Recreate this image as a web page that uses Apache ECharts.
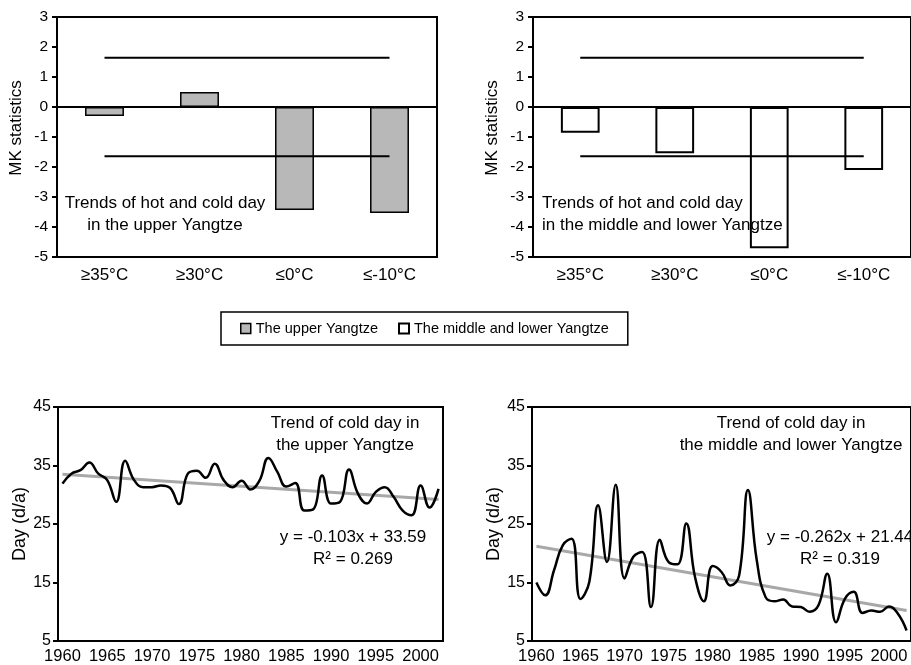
<!DOCTYPE html>
<html>
<head>
<meta charset="utf-8">
<script src="https://cdn.jsdelivr.net/npm/echarts@6/dist/echarts.min.js"></script>
<style>
html, body { margin: 0; padding: 0; background: #fff; }
#chart { width: 911px; height: 665px; }
</style>
</head>
<body>
<div id="chart"></div>
<script>
// MK statistics of hot / cold days
const categories = ["≥35°C", "≥30°C", "≤0°C", "≤-10°C"];
const upperMK = [-0.3, 0.5, -3.43, -3.53];
const midLowerMK = [-0.86, -1.54, -4.71, -2.1];
const sigUpper = [1.64, 1.64, 1.64, 1.64];
const sigLower = [-1.64, -1.64, -1.64, -1.64];
const mkTicks = [-5, -4, -3, -2, -1, 0, 1, 2, 3];

// cold days per year
const years = ["1960", "1961", "1962", "1963", "1964", "1965", "1966", "1967", "1968", "1969",
  "1970", "1971", "1972", "1973", "1974", "1975", "1976", "1977", "1978", "1979",
  "1980", "1981", "1982", "1983", "1984", "1985", "1986", "1987", "1988", "1989",
  "1990", "1991", "1992", "1993", "1994", "1995", "1996", "1997", "1998", "1999",
  "2000", "2001", "2002"];
const upperCold = [31.9, 33.6, 34.2, 35.5, 33.6, 32.5, 28.8, 35.8, 32.5, 31.3,
  31.3, 31.6, 31.2, 28.4, 33.6, 34.1, 32.9, 35.3, 32.5, 31.3,
  32.4, 30.9, 32.4, 36.3, 33.9, 31.4, 32.0, 27.3, 27.5, 33.3,
  28.5, 28.8, 34.3, 30.2, 28.5, 30.5, 31.3, 29.6, 27.3, 26.5,
  31.6, 27.8, 31.0];
const midCold = [15.0, 12.8, 17.1, 21.4, 22.5, 12.2, 15.1, 28.2, 18.5, 31.7,
  15.7, 19.4, 20.2, 10.8, 22.3, 18.5, 18.1, 25.1, 15.9, 11.8,
  17.8, 16.8, 14.5, 16.2, 30.8, 18.8, 12.5, 11.8, 12.1, 10.9,
  10.8, 10.0, 11.1, 16.5, 8.2, 12.2, 13.4, 9.8, 10.2, 10.0,
  10.9, 9.7, 6.8];
const trendYears = ["1960", "2002"];
const trendUpper = [33.5, 29.2];
const trendMid = [21.2, 10.2];
const dayTicks = [5, 15, 25, 35, 45];

const FONT = "Liberation Sans";
const black = { color: "#000", width: 2 };

let chart = echarts.init(document.getElementById("chart"));

function zeroAxis(gi) {
  return {
    gridIndex: gi, type: "category", data: categories, position: "bottom",
    axisLine: { onZero: true, lineStyle: black },
    axisTick: { inside: true, length: 6, lineStyle: black },
    axisLabel: { show: false },
  };
}
function labelAxis(gi) {
  return {
    gridIndex: gi, type: "category", data: categories, position: "bottom",
    axisLine: { show: false, onZero: false },
    axisTick: { show: false },
    axisLabel: { color: "#000", fontSize: 17, fontFamily: FONT, margin: 10 },
  };
}
function yearAxis(gi) {
  return {
    gridIndex: gi, type: "category", data: years,
    axisLine: { onZero: false, lineStyle: black },
    axisTick: { inside: true, length: 6, interval: 4, lineStyle: black },
    axisLabel: { interval: 4, color: "#000", fontSize: 16.5, fontFamily: FONT, margin: 7 },
  };
}
function mkAxis(gi) {
  return {
    gridIndex: gi, type: "value", min: -5, max: 3,
    name: "MK statistics", nameLocation: "middle", nameGap: 32,
    nameTextStyle: { color: "#000", fontSize: 17, fontFamily: FONT, padding: [0, 0, 0, 18] },
    axisLine: { show: true, onZero: false, lineStyle: black },
    axisTick: { show: true, length: 5, customValues: mkTicks, lineStyle: black },
    axisLabel: { color: "#000", fontSize: 15.5, fontFamily: FONT, margin: 9, customValues: mkTicks },
    splitLine: { show: false },
  };
}
function dayAxis(gi) {
  return {
    gridIndex: gi, type: "value", min: 5, max: 45,
    name: "Day (d/a)", nameLocation: "middle", nameGap: 27,
    nameTextStyle: { color: "#000", fontSize: 18, fontFamily: FONT },
    axisLine: { show: true, onZero: false, lineStyle: black },
    axisTick: { show: true, length: 5, customValues: dayTicks, lineStyle: black },
    axisLabel: { color: "#000", fontSize: 16, fontFamily: FONT, margin: 7, customValues: dayTicks },
    splitLine: { show: false },
  };
}
function sigLine(name, data, xi, yi) {
  return {
    name: name, type: "line", data: data, xAxisIndex: xi, yAxisIndex: yi,
    symbol: "none", silent: true, z: 5, lineStyle: black,
  };
}
function txt(x, y, text, align) {
  return {
    type: "text", x: x, y: y, z: 100,
    style: {
      text: text, align: align || "center", verticalAlign: "middle",
      fontSize: 17, fontFamily: FONT, fill: "#000", lineHeight: 22,
    },
  };
}

const gridBox = { show: true, borderColor: "#000", borderWidth: 2, backgroundColor: "#fff" };

let option = {
  animation: false,
  backgroundColor: "#fff",
  textStyle: { fontFamily: FONT },
  grid: [
    Object.assign({ left: 57, top: 17, width: 380, height: 240 }, gridBox),
    Object.assign({ left: 533, top: 17, width: 382, height: 240 }, gridBox),
    Object.assign({ left: 58, top: 407, width: 385, height: 234 }, gridBox),
    Object.assign({ left: 532, top: 407, width: 384, height: 234 }, gridBox),
  ],
  xAxis: [zeroAxis(0), labelAxis(0), zeroAxis(1), labelAxis(1), yearAxis(2), yearAxis(3)],
  yAxis: [mkAxis(0), mkAxis(1), dayAxis(2), dayAxis(3)],
  legend: {
    left: 221, top: 312, padding: [9, 19],
    borderColor: "#000", borderWidth: 1.5,
    itemGap: 20, itemWidth: 10, itemHeight: 10, icon: "rect",
    selectedMode: false,
    textStyle: { color: "#000", fontSize: 14.5, fontFamily: FONT },
    data: [
      { name: "The upper Yangtze", itemStyle: { color: "#b8b8b8", borderColor: "#000", borderWidth: 1.5 } },
      { name: "The middle and lower Yangtze", itemStyle: { color: "#fff", borderColor: "#000", borderWidth: 2 } },
    ],
  },
  series: [
    {
      name: "The upper Yangtze", type: "bar", data: upperMK,
      xAxisIndex: 0, yAxisIndex: 0, barWidth: "41%",
      itemStyle: { color: "#b8b8b8", borderColor: "#000", borderWidth: 1.5 },
    },
    sigLine("sig1", sigUpper, 0, 0),
    sigLine("sig2", sigLower, 0, 0),
    {
      name: "The middle and lower Yangtze", type: "bar", data: midLowerMK,
      xAxisIndex: 2, yAxisIndex: 1, barWidth: "41%",
      itemStyle: { color: "#fff", borderColor: "#000", borderWidth: 2 },
    },
    sigLine("sig3", sigUpper, 2, 1),
    sigLine("sig4", sigLower, 2, 1),
    {
      name: "trend upper", type: "line", xAxisIndex: 4, yAxisIndex: 2,
      data: [[trendYears[0], trendUpper[0]], [trendYears[1], trendUpper[1]]],
      symbol: "none", silent: true, z: 2,
      lineStyle: { color: "#a8a8a8", width: 3 },
    },
    {
      name: "cold upper", type: "line", xAxisIndex: 4, yAxisIndex: 2,
      data: upperCold, smooth: 0.45, symbol: "none", z: 3,
      lineStyle: { color: "#000", width: 2.5 },
    },
    {
      name: "trend mid", type: "line", xAxisIndex: 5, yAxisIndex: 3,
      data: [[trendYears[0], trendMid[0]], [trendYears[1], trendMid[1]]],
      symbol: "none", silent: true, z: 2,
      lineStyle: { color: "#a8a8a8", width: 3 },
    },
    {
      name: "cold mid", type: "line", xAxisIndex: 5, yAxisIndex: 3,
      data: midCold, smooth: 0.45, symbol: "none", z: 3,
      lineStyle: { color: "#000", width: 2.5 },
    },
  ],
  graphic: [
    txt(165, 214, "Trends of hot and cold day\nin the upper Yangtze"),
    txt(542, 214, "Trends of hot and cold day\nin the middle and lower Yangtze", "left"),
    txt(345, 434, "Trend of cold day in\nthe upper Yangtze"),
    txt(353, 548, "y = -0.103x + 33.59\nR² = 0.269"),
    txt(791, 434, "Trend of cold day in\nthe middle and lower Yangtze"),
    txt(840, 548, "y = -0.262x + 21.44\nR² = 0.319"),
  ],
};
chart.setOption(option);
</script>
</body>
</html>
